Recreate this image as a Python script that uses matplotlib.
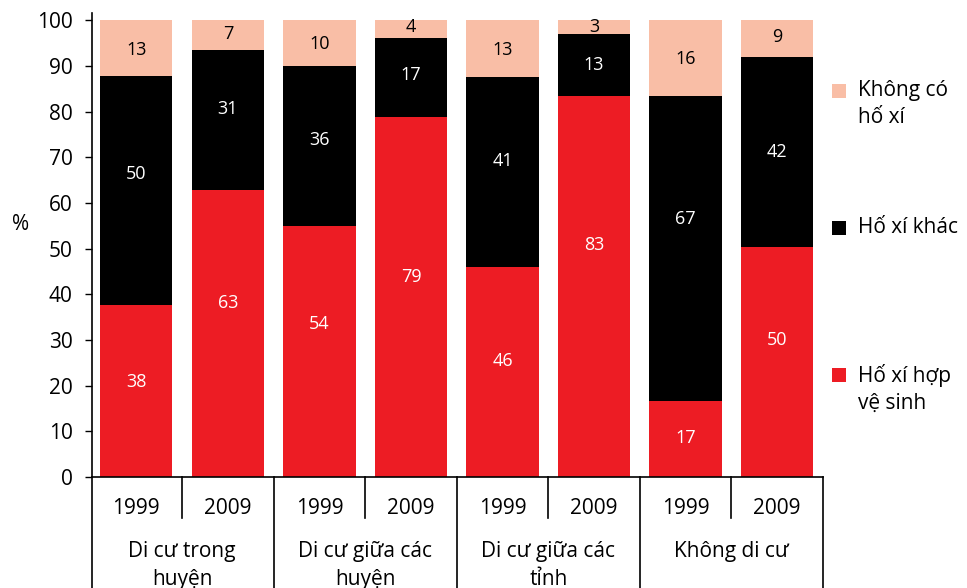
import matplotlib.pyplot as plt
from matplotlib.patches import Rectangle
import numpy as np

plt.rcParams['font.family'] = ['Open Sans', 'DejaVu Sans']

# du lieu (%), doc tu hinh
years = ['1999', '2009', '1999', '2009', '1999', '2009', '1999', '2009']
groups = ['Di cư trong\nhuyện', 'Di cư giữa các\nhuyện', 'Di cư giữa các\ntỉnh', 'Không di cư']
hop_ve_sinh = [37.7, 62.8, 54.9, 78.8, 46.0, 83.4, 16.6, 50.3]
ho_xi_khac = [50.0, 30.6, 35.2, 17.3, 41.5, 13.5, 66.8, 41.6]
khong_co = [12.3, 6.6, 9.9, 3.9, 12.5, 3.1, 16.6, 8.1]

# nhan so tren cot
lab_red = ['38', '63', '54', '79', '46', '83', '17', '50']
lab_black = ['50', '31', '36', '17', '41', '13', '67', '42']
lab_pink = ['13', '7', '10', '4', '13', '3', '16', '9']
# vi tri nhan (truc y)
pos_red = [20.7, 38.2, 33.6, 43.9, 25.3, 50.9, 8.6, 29.9]
pos_black = [66.3, 80.5, 73.9, 88.0, 69.3, 90.3, 56.4, 71.2]
pos_pink = [93.4, 97.1, 94.9, 98.5, 93.6, 98.5, 91.6, 96.3]

RED = '#ED1C24'
BLACK = '#000000'
PINK = '#F9BEA6'

W, H = 967, 588
fig = plt.figure(figsize=(W / 100, H / 100), dpi=100)
ax = fig.add_axes([92 / W, 1 - 477 / H, (823 - 92) / W, 464 / H])

X = np.arange(len(years))
red = np.array(hop_ve_sinh)
blk = np.array(ho_xi_khac)
pnk = np.array(khong_co)
ax.bar(X, red, 0.79, color=RED, linewidth=0)
ax.bar(X, blk, 0.79, bottom=red, color=BLACK, linewidth=0)
ax.bar(X, pnk, 0.79, bottom=red + blk, color=PINK, linewidth=0)

for i in X:
    ax.text(i, pos_red[i], lab_red[i], ha='center', va='center', color='white', fontsize=13)
    ax.text(i, pos_black[i], lab_black[i], ha='center', va='center', color='white', fontsize=13)
    ax.text(i, pos_pink[i], lab_pink[i], ha='center', va='center', color='black', fontsize=13)

ax.set_xlim(-0.484, 7.5)
ax.set_ylim(0, 101.6)
ax.set_yticks(range(0, 101, 10))
ax.set_xticks([])
ax.tick_params(axis='y', direction='out', length=5, width=1, labelsize=15, pad=9)
for s in ['top', 'right']:
    ax.spines[s].set_visible(False)
ax.spines['left'].set_linewidth(1.2)
ax.spines['bottom'].set_linewidth(1.2)

# bang nhan truc x
trans = ax.get_xaxis_transform()
for xv in [-0.484, 1.5, 3.5, 5.5, 7.5]:
    ax.plot([xv, xv], [0, -0.25], color='black', lw=1.2, transform=trans, clip_on=False)
for xv in [0.5, 2.5, 4.5, 6.5]:
    ax.plot([xv, xv], [0, -0.088], color='black', lw=1.2, transform=trans, clip_on=False)
for i in X:
    ax.text(i, -0.067, years[i], ha='center', va='center', fontsize=15, transform=trans)
for g, name in enumerate(groups):
    ax.text(2 * g + 0.5, -0.137, name, ha='center', va='top', fontsize=15,
            linespacing=1.45, transform=trans)

fig.text(21 / W, 1 - 225 / H, '%', ha='center', va='center', fontsize=15)

# chu thich
leg = [(PINK, 91, 'Không có\nhố xí'), (BLACK, 228, 'Hố xí khác'), (RED, 375, 'Hố xí hợp\nvệ sinh')]
for c, yc, t in leg:
    fig.add_artist(Rectangle((832 / W, 1 - (yc + 7) / H), 14 / W, 14 / H,
                             transform=fig.transFigure, color=c, lw=0))
    fig.text(858 / W, 1 - (yc - 11) / H, t, ha='left', va='top', fontsize=15, linespacing=1.35)

plt.savefig('out.png', dpi=100)
